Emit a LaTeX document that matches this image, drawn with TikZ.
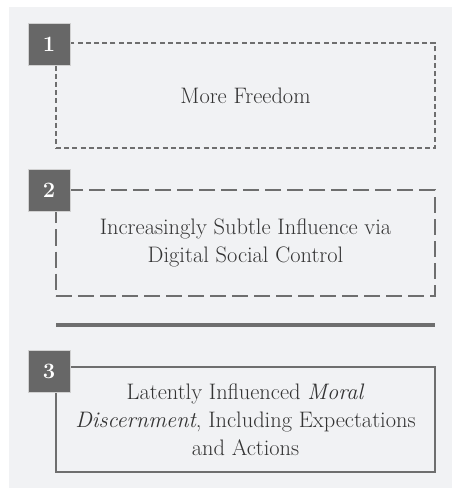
\documentclass[tikz,border=0pt]{standalone}
\begin{document}
\begin{tikzpicture}[x=1bp,y=-1bp,
  panel/.style={draw=linegray, line width=2bp, minimum width=379bp, minimum height=105bp,
    inner sep=0pt, align=center, text=textgray, font=\fontsize{22.5}{28}\selectfont},
  shortdash/.style={dash pattern=on 5bp off 3.2bp},
  longdash/.style={dash pattern=on 16bp off 6bp},
  numbox/.style={fill=boxgray, draw=white!70!boxgray, line width=0.8bp, minimum size=42bp,
    inner sep=0pt, text=white, font=\fontsize{22}{24}\selectfont\bfseries},
  divider/.style={draw=linegray, line width=4bp}]
\definecolor{bggray}{HTML}{F1F2F4}
\definecolor{linegray}{HTML}{6E6E6E}
\definecolor{boxgray}{HTML}{676767}
\definecolor{textgray}{HTML}{333333}
\useasboundingbox (0,0) rectangle (452,488);
\fill[bggray] (9,7) rectangle (452,488);

% step panels
\node[panel, shortdash] (p1) at (245.5,95.5) {More Freedom};
\node[panel, longdash] (p2) at (245.5,243) {Increasingly Subtle Influence via\\Digital Social Control};
\node[panel] (p3) at (245.5,419.5) {Latently Influenced \textit{Moral}\\\textit{Discernment}, Including Expectations\\and Actions};

% numbered tabs
\node[numbox] (n1) at (49,44) {1};
\node[numbox] (n2) at (49,190.5) {2};
\node[numbox] (n3) at (49,371) {3};

% divider between the dashed steps and the outcome
\coordinate (d1) at (56,325);
\coordinate (d2) at (435,325);
\draw[divider] (d1) -- (d2);
\end{tikzpicture}
\end{document}
